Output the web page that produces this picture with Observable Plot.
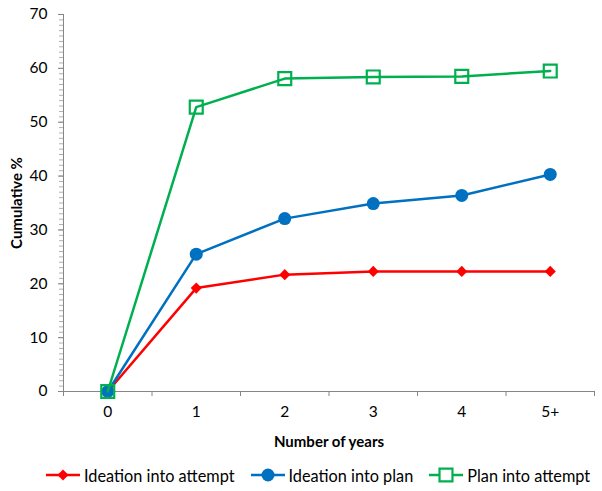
<!DOCTYPE html>
<html>
<head>
<meta charset="utf-8">
<script src="https://cdn.jsdelivr.net/npm/d3@7"></script>
<script src="https://cdn.jsdelivr.net/npm/@observablehq/plot@0.6"></script>
<style>
  html, body { margin: 0; padding: 0; background: #fff; }
  #chart { width: 602px; }
  svg g[aria-label="x-axis label"] text, svg g[aria-label="y-axis label"] text { font-weight: bold; font-size: 15px; }
  .legend { display: flex; align-items: center; font-family: Lato, "Open Sans", sans-serif; font-size: 16.3px; color: #000; margin-left: 46px; height: 20px; margin-top: 13px; white-space: nowrap; }
  .legend .item { display: flex; align-items: center; margin-right: 16px; }
  .legend svg { margin-right: 4px; }
</style>
</head>
<body>
<div id="chart"></div>
<script>
const categories = ["0", "1", "2", "3", "4", "5+"];
const seriesNames = ["Ideation into attempt", "Ideation into plan", "Plan into attempt"];
const ideationIntoAttempt = [0, 19.2, 21.7, 22.3, 22.3, 22.3];
const ideationIntoPlan = [0, 25.5, 32.1, 34.9, 36.4, 40.3];
const planIntoAttempt = [0, 52.8, 58.1, 58.4, 58.5, 59.5];
const yTicks = [0, 10, 20, 30, 40, 50, 60, 70];

const colors = ["#FF0000", "#0070C0", "#00B050"];
const seriesValues = [ideationIntoAttempt, ideationIntoPlan, planIntoAttempt];
const rows = [];
seriesValues.forEach((vals, s) => vals.forEach((v, i) => rows.push({series: seriesNames[s], idx: i, value: v})));
const bySeries = s => rows.filter(d => d.series === seriesNames[s]);
const boundaries = d3.range(categories.length + 1).map(i => i - 0.5);
const minorTicks = d3.range(0, 71, 1);
const axisGray = "#868686";

const plot = Plot.plot({
  width: 602,
  height: 452,
  marginLeft: 63,
  marginRight: 8,
  marginTop: 14,
  marginBottom: 61,
  style: {fontFamily: "Lato, 'Open Sans', sans-serif", fontSize: "15.5px", color: "#000", background: "#fff"},
  x: {type: "linear", domain: [-0.5, categories.length - 0.5]},
  y: {domain: [0, 70]},
  marks: [
    Plot.axisY({ticks: minorTicks, tickSize: 4, tickFormat: () => "", stroke: "#b0b0b0", label: null}),
    Plot.axisY({ticks: yTicks, tickSize: 5, tickPadding: 11, stroke: axisGray, label: "Cumulative %", labelArrow: "none", labelAnchor: "center", labelOffset: 52}),
    Plot.axisX({ticks: boundaries, tickSize: 5, tickFormat: () => "", stroke: axisGray, label: null}),
    Plot.axisX({ticks: d3.range(categories.length), tickSize: 0, tickPadding: 14, tickFormat: i => categories[i], label: "Number of years", labelArrow: "none", labelAnchor: "center", labelOffset: 55}),
    Plot.ruleX([-0.5], {stroke: axisGray}),
    Plot.ruleY([0], {stroke: axisGray}),
    Plot.line(bySeries(0), {x: "idx", y: "value", stroke: colors[0], strokeWidth: 2.5}),
    Plot.dot(bySeries(0), {x: "idx", y: "value", symbol: "diamond2", r: 5, fill: colors[0], stroke: "none"}),
    Plot.line(bySeries(1), {x: "idx", y: "value", stroke: colors[1], strokeWidth: 2.5}),
    Plot.dot(bySeries(1), {x: "idx", y: "value", symbol: "circle", r: 6.5, fill: colors[1], stroke: "none"}),
    Plot.line(bySeries(2), {x: "idx", y: "value", stroke: colors[2], strokeWidth: 2.5}),
    Plot.dot(bySeries(2), {x: "idx", y: "value", symbol: "square", r: 7.3, fill: "none", stroke: colors[2], strokeWidth: 2.2})
  ]
});
document.getElementById("chart").appendChild(plot);

// Legend
const legend = document.createElement("div");
legend.className = "legend";
seriesNames.forEach((name, s) => {
  const item = document.createElement("div");
  item.className = "item";
  const sw = d3.create("svg").attr("width", 34).attr("height", 16);
  sw.append("line").attr("x1", 0).attr("x2", 34).attr("y1", 8).attr("y2", 8).attr("stroke", colors[s]).attr("stroke-width", 2.5);
  const sym = s === 0 ? d3.symbolDiamond2 : s === 1 ? d3.symbolCircle : d3.symbolSquare;
  const rr = s === 0 ? 5 : s === 1 ? 6.5 : 7.3;
  sw.append("path").attr("transform", "translate(17,8)")
    .attr("d", d3.symbol(sym, Math.PI * rr * rr)())
    .attr("fill", s === 2 ? "#fff" : colors[s]).attr("stroke", s === 2 ? colors[s] : "none").attr("stroke-width", 2.2);
  item.appendChild(sw.node());
  const t = document.createElement("span");
  t.textContent = name;
  item.appendChild(t);
  legend.appendChild(item);
});
document.getElementById("chart").appendChild(legend);
</script>
</body>
</html>
